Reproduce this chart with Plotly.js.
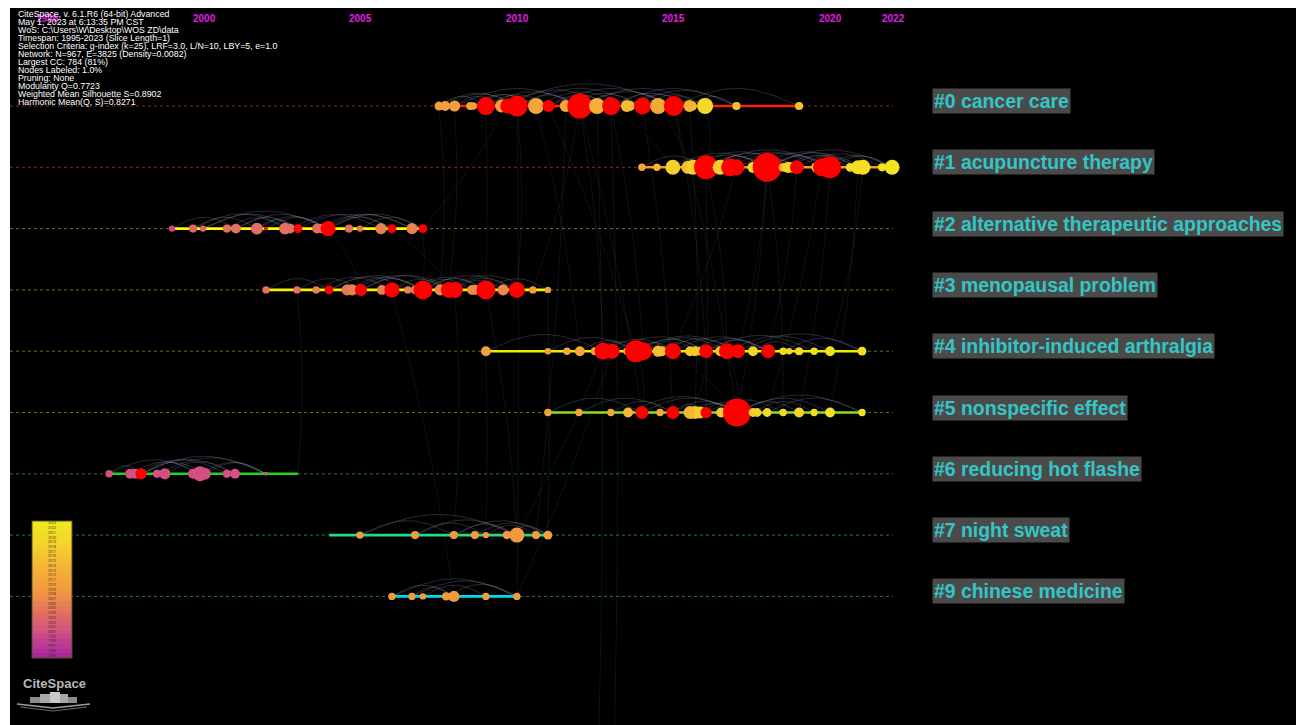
<!DOCTYPE html>
<html>
<head>
<meta charset="utf-8">
<script src="https://cdn.plot.ly/plotly-3.0.1.min.js"></script>
<style>
  html, body { margin: 0; padding: 0; background: #ffffff; }
  #chart { width: 1296px; height: 725px; }
</style>
</head>
<body>
<div id="chart"></div>
<script>
// ---- Timeline clusters -------------------------------------------------
const clusterIds = ['#0', '#1', '#2', '#3', '#4', '#5', '#6', '#7', '#9'];
const clusterLabels = ['cancer care', 'acupuncture therapy', 'alternative therapeutic approaches',
  'menopausal problem', 'inhibitor-induced arthralgia', 'nonspecific effect',
  'reducing hot flashe', 'night sweat', 'chinese medicine'];
const clusterStart = [2007.5, 2014, 1999, 2002, 2009, 2011, 1997, 2004, 2006];
const clusterEnd   = [2019, 2022, 2007, 2011, 2021, 2021, 2003, 2011, 2010];
const timelineEnd = 2022;
const yearTicks = [1995, 2000, 2005, 2010, 2015, 2020, 2022];

// ---- Nodes per cluster: publication year, citation count, colour year (null = citation burst)
const n0Year = [2007.5, 2007.7, 2008.0, 2008.5, 2008.6, 2009.0, 2009.5, 2009.7, 2010.0, 2010.6, 2011.0, 2011.55, 2012.0, 2012.55, 2013.0, 2013.5, 2013.6, 2014.0, 2014.5, 2015.0, 2015.5, 2015.6, 2016.0, 2017.0, 2019.0];
const n0Cite = [4, 6, 9, 3, 2, 34, 14, 21, 50, 25, 11, 11, 77, 25, 34, 11, 6, 29, 25, 44, 11, 4, 25, 3, 3];
const n0Tone = [2010, 2010, 2010, 2010, 2010, null, 2010, null, null, 2011, null, 2011, null, 2013, null, 2015, 2015, null, 2012, null, 2013, 2014, 2020, 2016, 2016];

const n1Year = [2013.98, 2014.46, 2014.97, 2015.45, 2015.61, 2016.03, 2016.48, 2016.8, 2017.0, 2017.53, 2017.98, 2018.49, 2018.65, 2018.81, 2018.93, 2019.57, 2019.73, 2019.99, 2020.63, 2020.88, 2021.04, 2021.65, 2021.97];
const n1Cite = [2, 2, 21, 14, 21, 69, 21, 34, 25, 9, 108, 4, 9, 9, 17, 9, 34, 56, 4, 17, 21, 3, 21];
const n1Tone = [2011, 2014, 2018, 2015, 2018, null, 2018, null, null, 2019, null, 2014, 2019, 2019, null, 2019, null, null, 2021, 2021, 2021, 2022, 2022];

const n2Year = [1998.98, 1999.65, 1999.97, 2000.73, 2001.02, 2001.69, 2001.98, 2002.59, 2002.75, 2003.0, 2003.61, 2003.77, 2003.96, 2004.63, 2004.98, 2005.65, 2006.0, 2006.64, 2006.99];
const n2Cite = [1, 3, 1, 3, 6, 11, 0, 11, 6, 4, 6, 6, 21, 3, 1, 9, 4, 9, 4];
const n2Tone = [1999, 2003, 2003, 2004, 2004, 2004, null, 2004, 2004, null, 2004, 2004, null, 2004, 2005, 2006, null, 2006, null];

const n3Year = [2001.98, 2002.97, 2003.58, 2003.99, 2004.57, 2004.73, 2005.01, 2005.68, 2006.0, 2006.51, 2006.74, 2006.99, 2007.54, 2007.82, 2008.01, 2008.56, 2008.65, 2009.0, 2009.55, 2009.99, 2010.5, 2010.98];
const n3Cite = [2, 2, 2, 4, 9, 9, 11, 6, 21, 2, 4, 39, 9, 25, 25, 6, 6, 39, 9, 25, 2, 1];
const n3Tone = [2004, 2004, 2006, null, 2005, 2006, null, 2006, null, 2006, 2006, null, 2007, null, null, 2008, 2007, null, 2007, null, 2010, 2010];

const n4Year = [2009.0, 2010.98, 2011.59, 2012.0, 2012.48, 2012.74, 2013.03, 2013.5, 2013.79, 2014.02, 2014.5, 2014.62, 2014.97, 2015.52, 2015.68, 2015.84, 2016.03, 2016.48, 2016.7, 2017.05, 2017.53, 2018.01, 2018.49, 2018.68, 2019.0, 2019.48, 2019.99, 2021.01];
const n4Cite = [6, 1, 2, 6, 3, 29, 21, 2, 56, 34, 9, 6, 25, 6, 6, 4, 17, 6, 25, 17, 6, 17, 2, 1, 3, 2, 6, 4];
const n4Tone = [2010, 2010, 2011, 2011, 2011, null, null, 2012, null, null, 2015, 2016, null, 2017, 2017, 2018, null, 2016, null, null, 2019, null, 2019, 2020, 2020, 2020, 2021, 2021];

const n5Year = [2010.98, 2011.97, 2012.99, 2013.54, 2013.98, 2014.56, 2014.97, 2015.52, 2015.68, 2015.84, 2016.03, 2016.51, 2017.02, 2017.53, 2017.66, 2017.98, 2018.49, 2019.0, 2019.48, 2019.99, 2021.01];
const n5Cite = [2, 2, 2, 6, 14, 2, 14, 14, 14, 11, 9, 6, 100, 4, 4, 4, 2, 6, 2, 6, 2];
const n5Tone = [2010, 2011, 2011, 2014, null, 2012, null, 2014, 2015, 2018, null, 2017, null, 2018, 2018, 2020, 2020, 2019, 2020, 2021, 2021];

const n6Year = [1996.97, 1997.64, 1997.8, 1997.99, 1998.5, 1998.75, 1999.65, 1999.87, 2000.03, 2000.73, 2000.99, 2001.98];
const n6Cite = [2, 6, 6, 9, 3, 9, 6, 21, 11, 3, 6, 0];
const n6Tone = [2000, 2000, 2000, null, 2000, 2000, 2000, 2000, 2000, 2000, 2000, 2000];

const n7Year = [2004.98, 2006.74, 2007.98, 2008.65, 2009.0, 2009.67, 2009.99, 2010.6, 2010.98];
const n7Cite = [2, 3, 3, 3, 1, 3, 21, 3, 4];
const n7Tone = [2009, 2009, 2009, 2009, 2009, 2009, 2009, 2009, 2010];

const n9Year = [2006.0, 2006.64, 2006.99, 2007.73, 2007.98, 2009.0, 2009.99];
const n9Cite = [2, 2, 1, 3, 9, 2, 2];
const n9Tone = [2009, 2009, 2009, 2009, 2009, 2009, 2009];

// ---- Co-citation links inside each cluster (node index pairs)
const l0 = [[0,5],[1,8],[2,6],[3,9],[5,10],[5,12],[6,14],[8,12],[8,17],[9,15],[10,19],[11,17],[12,19],[12,22],[14,20],[14,23],[17,22],[19,24],[2,12],[0,8],[6,19],[10,14],[4,9],[15,21],[16,23],[20,23]];
const l1 = [[0,5],[2,5],[2,10],[4,10],[5,10],[5,17],[6,16],[7,14],[8,17],[10,17],[10,20],[10,22],[12,19],[14,21],[16,22],[9,19],[3,13],[5,14],[11,18],[17,22]];
const l2 = [[0,4],[1,5],[1,8],[2,9],[4,12],[5,12],[6,12],[8,15],[9,16],[10,17],[12,16],[12,18],[4,9],[3,7],[14,18],[11,17],[2,12],[5,9]];
const l3 = [[0,3],[1,6],[2,8],[3,11],[4,11],[6,11],[6,14],[8,13],[11,17],[11,19],[13,19],[14,18],[9,17],[10,15],[17,21],[12,20],[5,13],[3,9]];
const l4 = [[0,5],[1,8],[3,8],[5,12],[6,16],[8,16],[8,19],[9,18],[12,21],[13,21],[16,21],[16,25],[18,26],[19,27],[20,24],[22,27],[8,12],[10,14],[4,9],[11,19]];
const l5 = [[0,4],[1,6],[2,6],[3,12],[4,12],[6,12],[6,10],[7,12],[10,16],[12,17],[12,19],[12,20],[13,18],[9,14],[8,12],[15,20]];
const l6 = [[0,3],[0,7],[1,7],[3,8],[3,10],[4,11],[7,11],[5,10],[2,9],[8,11],[3,11]];
const l7 = [[0,2],[0,6],[1,6],[2,6],[3,8],[1,4],[4,7],[2,8],[5,8]];
const l9 = [[0,4],[0,6],[1,4],[2,5],[3,6],[1,6]];

// ---- Links between clusters: [row A, year A, row B, year B]
const crossLinks = [
  [0, 2009.0, 3, 2009.0], [0, 2010.0, 3, 2009.99], [0, 2010.6, 4, 2012.0], [0, 2011.0, 4, 2013.79],
  [0, 2012.0, 4, 2012.74], [0, 2012.0, 5, 2013.98], [0, 2013.0, 4, 2014.02], [0, 2014.0, 5, 2014.97],
  [0, 2015.0, 4, 2016.03], [0, 2015.0, 5, 2017.02], [0, 2016.0, 1, 2016.03], [0, 2014.5, 1, 2015.45],
  [0, 2013.0, 1, 2014.97], [0, 2012.55, 10.5, 2012.6], [0, 2013.0, 10.5, 2013.1], [0, 2009.7, 2, 2006.99],
  [0, 2008.0, 3, 2007.82], [0, 2007.5, 3, 2007.54], [1, 2016.03, 4, 2016.7], [1, 2017.98, 4, 2017.05],
  [1, 2017.98, 5, 2017.02], [1, 2018.93, 4, 2018.01], [1, 2019.99, 5, 2019.0], [1, 2016.03, 5, 2016.03],
  [1, 2021.04, 4, 2019.99], [1, 2019.73, 5, 2017.98], [2, 2006.99, 3, 2006.99], [2, 2003.96, 3, 2005.01],
  [2, 2006.0, 3, 2008.01], [3, 2002.97, 6, 2003.0], [3, 2009.0, 7, 2009.99], [3, 2008.01, 7, 2007.98],
  [3, 2010.98, 7, 2010.98], [3, 2006.0, 8, 2007.98], [4, 2013.79, 5, 2013.98], [4, 2014.97, 5, 2017.02],
  [4, 2016.7, 5, 2017.02], [4, 2012.74, 7, 2009.99], [4, 2009.0, 7, 2009.0], [4, 2016.03, 5, 2015.52],
  [4, 2013.03, 8, 2009.99], [0, 2011.56, 7, 2010.6], [0, 2010.0, 8, 2010.0], [1, 2018.0, 5, 2018.49],
  [0, 2012.0, 3, 2010.5], [1, 2017.0, 4, 2014.97], [0, 2015.5, 5, 2015.68], [1, 2020.88, 5, 2019.99]
];

// ---- Header text
const infoLines = [
  'CiteSpace, v. 6.1.R6 (64-bit) Advanced',
  'May 1, 2023 at 6:13:35 PM CST',
  'WoS: C:\\Users\\W\\Desktop\\WOS ZD\\data',
  'Timespan: 1995-2023 (Slice Length=1)',
  'Selection Criteria: g-index (k=25), LRF=3.0, L/N=10, LBY=5, e=1.0',
  'Network: N=967, E=3825 (Density=0.0082)',
  'Largest CC: 784 (81%)',
  'Nodes Labeled: 1.0%',
  'Pruning: None',
  'Modularity Q=0.7723',
  'Weighted Mean Silhouette S=0.8902',
  'Harmonic Mean(Q, S)=0.8271'
];
const legendYears = [];
for (let y = 1995; y <= 2023; y++) legendYears.push(y);

// ---- Styling ---------------------------------------------------------
const W = 1296, H = 725;
const M = { l: 10, r: 0, t: 8, b: 0 };
const plotW = W - M.l - M.r, plotH = H - M.t - M.b;
const xRange = [1993.806, 2034.866];
const yRange = [10.098, -1.599];
const pxPerYear = plotW / (xRange[1] - xRange[0]);
const pxPerRow = plotH / (yRange[0] - yRange[1]);
const px = x => (x - M.l) / plotW;          // page x -> paper x
const py = y => (H - M.b - y) / plotH;      // page y -> paper y

const lineColors = ['#ff2000', '#ff9c10', '#ffff00', '#f2f200', '#e8f000', '#8ae024', '#22d41e', '#1ede8a', '#00dcea'];
const dashColors = ['#8a2a1a', '#8a2a1a', '#8a6a1a', '#8a6a1a', '#5a7a1a', '#5a7a1a', '#1f7a2a', '#1f7a5a', '#1f7070'];
const burstColor = '#ff0000';

const toneStops = [[1995, [168, 40, 158]], [2000, [210, 80, 130]], [2004, [226, 112, 96]],
  [2009, [242, 154, 64]], [2014, [245, 181, 53]], [2018, [244, 208, 44]], [2023, [242, 232, 30]]];
function toneColor(y) {
  if (y <= toneStops[0][0]) return 'rgb(' + toneStops[0][1].join(',') + ')';
  for (let i = 1; i < toneStops.length; i++) {
    const [y1, c1] = toneStops[i];
    const [y0, c0] = toneStops[i - 1];
    if (y <= y1) {
      const t = (y - y0) / (y1 - y0);
      const c = c0.map((v, k) => Math.round(v + (c1[k] - v) * t));
      return 'rgb(' + c.join(',') + ')';
    }
  }
  return 'rgb(' + toneStops[toneStops.length - 1][1].join(',') + ')';
}
const toneScale = toneStops.map(([y, c]) => [(y - 1995) / 28, 'rgb(' + c.join(',') + ')']);
const nodeSize = c => 4 + 2.4 * Math.sqrt(c);

const clusters = [
  [n0Year, n0Cite, n0Tone, l0], [n1Year, n1Cite, n1Tone, l1], [n2Year, n2Cite, n2Tone, l2],
  [n3Year, n3Cite, n3Tone, l3], [n4Year, n4Cite, n4Tone, l4], [n5Year, n5Cite, n5Tone, l5],
  [n6Year, n6Cite, n6Tone, l6], [n7Year, n7Cite, n7Tone, l7], [n9Year, n9Cite, n9Tone, l9]
];

const traces = [];

// dashed guide lines for every cluster row
clusters.forEach((c, row) => {
  traces.push({
    type: 'scatter', mode: 'lines', x: [xRange[0], timelineEnd], y: [row, row],
    line: { color: dashColors[row], width: 1, dash: '3px,3px' }, hoverinfo: 'skip'
  });
});

// links between clusters, drawn as gently bowed curves
const cx = [], cy = [];
crossLinks.forEach(([ra, xa, rb, xb]) => {
  const bow = 0.15 * (xb - xa === 0 ? 0.3 : 1);
  for (let k = 0; k <= 12; k++) {
    const t = k / 12;
    cx.push(xa + (xb - xa) * t + bow * Math.sin(Math.PI * t));
    cy.push(ra + (rb - ra) * t);
  }
  cx.push(null); cy.push(null);
});
traces.push({ type: 'scatter', mode: 'lines', x: cx, y: cy,
  line: { color: 'rgba(140,150,190,0.16)', width: 0.7 }, hoverinfo: 'skip' });

// arcs inside clusters
const ax = [], ay = [];
clusters.forEach(([yr, , , links], row) => {
  links.forEach(([i, j]) => {
    const x1 = yr[i], x2 = yr[j];
    const spanPx = Math.abs(x2 - x1) * pxPerYear;
    const h = Math.min(28, 5 + 0.1 * spanPx) / pxPerRow;
    for (let k = 0; k <= 24; k++) {
      const t = k / 24;
      ax.push(x1 + (x2 - x1) * t);
      ay.push(row - h * Math.sin(Math.PI * t));
    }
    ax.push(null); ay.push(null);
  });
});
traces.push({ type: 'scatter', mode: 'lines', x: ax, y: ay, line: { color: 'rgba(165,175,210,0.3)', width: 0.8 },
  hoverinfo: 'skip' });

// solid cluster timelines
clusters.forEach((c, row) => {
  traces.push({ type: 'scatter', mode: 'lines', x: [clusterStart[row], clusterEnd[row]], y: [row, row],
    line: { color: lineColors[row], width: 2.6 }, hoverinfo: 'skip' });
});

// nodes
clusters.forEach(([yr, cite, tone], row) => {
  traces.push({
    type: 'scatter', mode: 'markers', x: yr, y: yr.map(() => row),
    marker: {
      size: cite.map(nodeSize),
      color: tone.map(t => t === null ? burstColor : toneColor(t)),
      line: { width: 0 }, opacity: 1
    },
    hoverinfo: 'skip'
  });
});

// year colour legend
traces.push({
  type: 'heatmap', xaxis: 'x2', yaxis: 'y2', x: [0], y: legendYears, z: legendYears.map(v => [v]),
  colorscale: toneScale, zmin: 1995, zmax: 2023, showscale: false,
  texttemplate: '%{z}', textfont: { size: 3.5, color: '#3a2a2a' }, hoverinfo: 'skip'
});

// ---- Annotations -------------------------------------------------------
const annotations = [];
yearTicks.forEach(y => annotations.push({
  x: y, xref: 'x', xanchor: 'center', y: 1, yref: 'paper', yanchor: 'top', yshift: -3, showarrow: false,
  text: '<b>' + y + '</b>', font: { family: 'Liberation Sans Narrow, Arial Narrow, Liberation Sans, Arial, sans-serif', size: 10, color: '#e21ee2' }
}));
infoLines.forEach((t, i) => annotations.push({
  x: px(17), xref: 'paper', xanchor: 'left', y: py(14.3 + i * 7.95), yref: 'paper', yanchor: 'middle',
  showarrow: false, text: t, borderpad: 0,
  font: { family: 'Liberation Sans, Arial, sans-serif', size: 8.8, color: '#ffffff' }
}));
clusterIds.forEach((id, row) => annotations.push({
  x: 2023.25, xref: 'x', xanchor: 'left', y: row, yref: 'y', yanchor: 'middle', yshift: 5,
  showarrow: false, text: '<b>' + id + ' ' + clusterLabels[row] + '</b>',
  font: { family: 'Liberation Sans, Arial, sans-serif', size: 19.4, color: '#34c6c6' },
  bgcolor: '#4a4a4a', borderpad: 1
}));
annotations.push({
  x: px(54), xref: 'paper', xanchor: 'center', y: py(683), yref: 'paper', yanchor: 'middle', showarrow: false,
  text: '<b>CiteSpace</b>', font: { family: 'Liberation Sans, Arial, sans-serif', size: 13, color: '#b8b8b8' }
});

// ---- Shapes: legend frame and logo blocks
const shapes = [
  { type: 'rect', xref: 'paper', yref: 'paper', x0: px(32), x1: px(72), y0: py(658), y1: py(521),
    line: { color: '#55551e', width: 1 }, fillcolor: 'rgba(0,0,0,0)' }
];
const logoBlocks = [[30, 40, 697, '#8c8c8c'], [40, 50, 694, '#a8a8a8'], [50, 60, 692, '#c8c8c8'], [60, 68, 694, '#a8a8a8'], [68, 77, 697, '#8c8c8c']];
logoBlocks.forEach(([a, b, top, col]) => shapes.push({
  type: 'rect', xref: 'paper', yref: 'paper', x0: px(a), x1: px(b), y0: py(703), y1: py(top),
  line: { width: 0 }, fillcolor: col
}));
shapes.push({
  type: 'path', xref: 'paper', yref: 'paper',
  path: `M ${px(17)} ${py(704)} L ${px(53)} ${py(708)} L ${px(90)} ${py(704)}`,
  line: { color: '#9a9a9a', width: 1.5 }
});
shapes.push({
  type: 'path', xref: 'paper', yref: 'paper',
  path: `M ${px(20)} ${py(707)} L ${px(53)} ${py(711)} L ${px(87)} ${py(707)}`,
  line: { color: '#6a6a6a', width: 1.2 }
});

const layout = {
  width: W, height: H, margin: M,
  paper_bgcolor: '#ffffff', plot_bgcolor: '#000000',
  showlegend: false, hovermode: false,
  xaxis: { range: xRange, visible: false, fixedrange: true },
  yaxis: { range: yRange, visible: false, fixedrange: true },
  xaxis2: { domain: [px(32), px(72)], anchor: 'y2', visible: false, fixedrange: true },
  yaxis2: { domain: [py(658), py(521)], anchor: 'x2', visible: false, fixedrange: true, range: [1994.5, 2023.5] },
  annotations: annotations, shapes: shapes
};

Plotly.newPlot('chart', traces, layout, { staticPlot: true, displayModeBar: false });
</script>
</body>
</html>
